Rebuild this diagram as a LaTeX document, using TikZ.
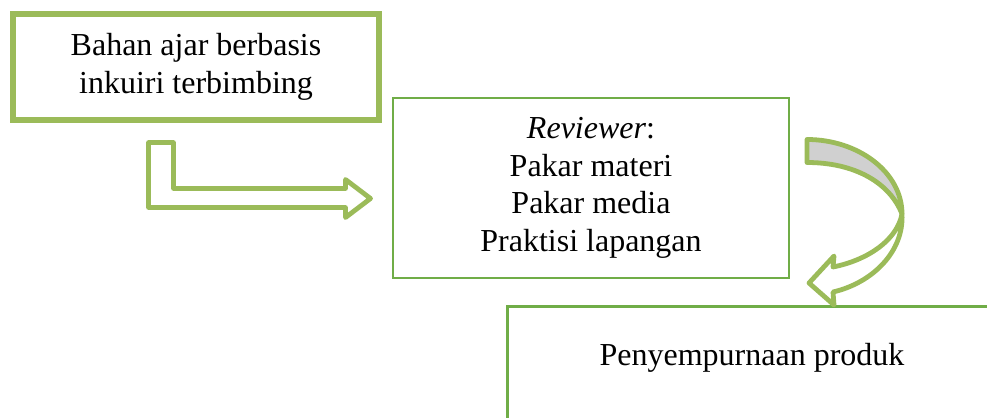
\documentclass[tikz,border=0pt]{standalone}
\usepackage{fontspec}
\setmainfont{Liberation Serif}
\definecolor{wordgreen}{HTML}{9BBB59}
\definecolor{boxgreen}{HTML}{70AD47}
\definecolor{bandgrey}{HTML}{D0D0D0}
\begin{document}
\begin{tikzpicture}[x=0.75pt,y=-0.75pt,
  font=\fontsize{24}{28.2}\selectfont,
  thickbox/.style={draw=wordgreen, line width=4.5pt, rectangle, align=center, inner sep=0pt},
  thinbox/.style={draw=boxgreen, line width=1.9pt, rectangle, align=center, inner sep=0pt},
  blockarrow/.style={draw=wordgreen, line width=3.6pt, line join=round, fill=white},
  greyband/.style={draw=wordgreen, line width=3.6pt, line join=round, fill=bandgrey}]
\useasboundingbox (0,0) rectangle (987,417);

% Box 1
\node[thickbox, minimum width=274.5pt, minimum height=79.5pt] (box1) at (196,67)
  {Bahan ajar berbasis\\inkuiri terbimbing};

% Box 2
\node[thinbox, minimum width=297pt, minimum height=135pt] (box2) at (591,188)
  {\textit{Reviewer}:\\Pakar materi\\Pakar media\\Praktisi lapangan};

% Box 3 (partly outside the picture)
\begin{scope}
\clip (0,0) rectangle (987,417);
\node[thinbox, minimum width=369pt, minimum height=150pt, anchor=north west] (box3) at (506,305) {};
\end{scope}
\node[anchor=base] (box3text) at (752,365) {Penyempurnaan produk};

% Bent block arrow from box 1 to box 2
\draw[blockarrow] (148.5,142.5) -- (173.5,142.5) -- (173.5,188.5) -- (345.5,188.5)
  -- (345.5,179.5) -- (370.5,198.5) -- (345.5,217.5) -- (345.5,207.5)
  -- (148.5,207.5) -- cycle;

% Curved block arrow from box 2 to box 3
\draw[greyband] (807,139.5) .. controls (858,139.5) and (902,172) .. (902,214)
  .. controls (890,183) and (855,162.5) .. (807,162.5) -- cycle;
\draw[blockarrow] (902,214) .. controls (904,252) and (872,283) .. (833,292)
  -- (834,305) -- (809,283) -- (834,256) -- (833,267)
  .. controls (868,260) and (897,240) .. (902,214) -- cycle;
\end{tikzpicture}
\end{document}
